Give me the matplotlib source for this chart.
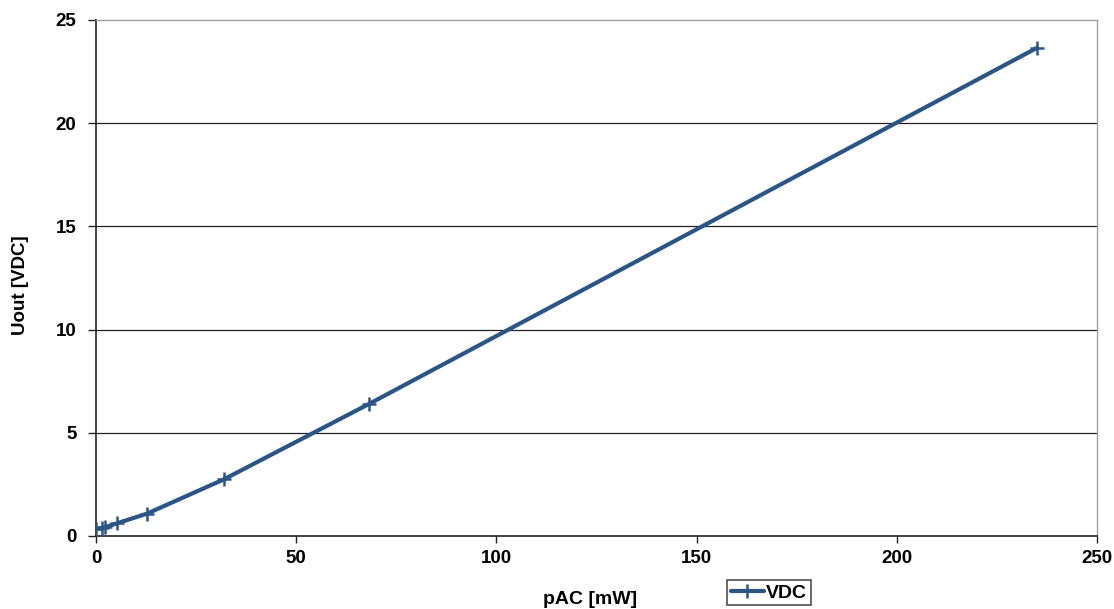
import matplotlib
matplotlib.use("Agg")
import matplotlib.pyplot as plt
import numpy as np

p_ac = [0.0, 1.4, 2.2, 5.3, 12.7, 32.0, 68.2, 235.0]
u_out = [0.34, 0.39, 0.42, 0.62, 1.08, 2.75, 6.4, 23.65]
x_ticks = [0, 50, 100, 150, 200, 250]
y_ticks = [0, 5, 10, 15, 20, 25]

plt.rcParams['font.family'] = ['Liberation Sans', 'DejaVu Sans']

fig = plt.figure(figsize=(11.14, 6.09), dpi=100)
ax = fig.add_axes([96/1114, 73/609, (1097-96)/1114, (536-20)/609])

color = '#2A5585'
ax.plot(p_ac, u_out, color=color, lw=3.0, marker='+', ms=10, mew=1.8,
        label='VDC', zorder=3, solid_capstyle='round')

ax.set_xlim(0, 250)
ax.set_ylim(0, 25)
ax.set_xticks(x_ticks)
ax.set_yticks(y_ticks)
for gy in y_ticks[1:-1]:
    ax.axhline(gy, color='#222222', lw=0.9, zorder=1)

for s in ['top', 'right']:
    ax.spines[s].set_color('#a0a0a0')
    ax.spines[s].set_linewidth(1.0)
for s in ['left', 'bottom']:
    ax.spines[s].set_color('#222222')
    ax.spines[s].set_linewidth(1.2)

ax.tick_params(axis='y', direction='out', length=6, width=1, color='#222222',
               labelsize=13.5, pad=8)
ax.tick_params(axis='x', direction='out', length=5, width=1, color='#222222',
               labelsize=13.5, pad=5)
for lab in ax.get_xticklabels() + ax.get_yticklabels():
    lab.set_fontweight('bold')

fig.text(21/1114, 1 - 285/609, 'Uout [VDC]', fontsize=13.5, fontweight='bold',
         rotation=90, ha='center', va='center')
fig.text(590/1114, 1 - 600/609, 'pAC [mW]', fontsize=14, fontweight='bold',
         ha='center', va='center')

leg = fig.legend(loc='upper left', bbox_to_anchor=(727/1114, 1 - 580/609),
                 frameon=True, fancybox=False,
                 prop={'weight': 'bold', 'size': 14},
                 handlelength=1.7, handletextpad=0.1, borderpad=0.2,
                 borderaxespad=0)
leg.get_frame().set_edgecolor('#222222')
leg.get_frame().set_linewidth(1.2)

fig.savefig('out.png', dpi=100)
